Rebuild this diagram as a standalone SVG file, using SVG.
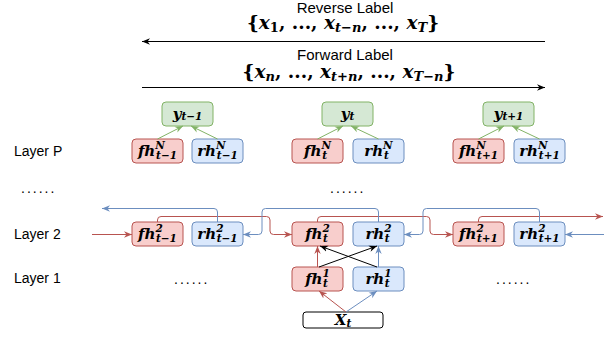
<svg xmlns="http://www.w3.org/2000/svg" width="615" height="339" viewBox="0 0 615 339">
  <style>
    .lbl { font-family: "Liberation Sans", Arial, sans-serif; font-size: 14px; fill: #000; }
    .ttl { font-family: "Liberation Sans", Arial, sans-serif; font-size: 15px; fill: #000; }
    .m { font-family: "DejaVu Serif", serif; font-weight: bold; font-style: italic; font-size: 15px; fill: #000; }
    .s { font-size: 10.5px; }
    .mb { font-family: "DejaVu Serif", serif; font-weight: bold; font-size: 18.5px; fill: #000; }
    .mi { font-style: italic; }
    .ms { font-size: 13px; }
    .f { fill: #f8cecc; stroke: #b85450; stroke-width: 1; }
    .r { fill: #dae8fc; stroke: #6c8ebf; stroke-width: 1; }
    .g { fill: #d5e8d4; stroke: #82b366; stroke-width: 1; }
    .x { fill: #ffffff; stroke: #000000; stroke-width: 1; }
    .cr { fill: none; stroke: #b85450; stroke-width: 1; marker-end: url(#aR); }
    .cb { fill: none; stroke: #6c8ebf; stroke-width: 1; marker-end: url(#aB); }
    .cg { fill: none; stroke: #82b366; stroke-width: 1; marker-end: url(#aG); }
    .ck { fill: none; stroke: #000000; stroke-width: 1; marker-end: url(#aK); }
  </style>
  <defs>
    <marker id="aR" viewBox="0 0 10 10" refX="10" refY="5" markerWidth="8" markerHeight="8" orient="auto" markerUnits="userSpaceOnUse"><path d="M0,1 L10,5 L0,9 L3,5 z" fill="#b85450"/></marker>
    <marker id="aB" viewBox="0 0 10 10" refX="10" refY="5" markerWidth="8" markerHeight="8" orient="auto" markerUnits="userSpaceOnUse"><path d="M0,1 L10,5 L0,9 L3,5 z" fill="#6c8ebf"/></marker>
    <marker id="aG" viewBox="0 0 10 10" refX="10" refY="5" markerWidth="8" markerHeight="8" orient="auto" markerUnits="userSpaceOnUse"><path d="M0,1 L10,5 L0,9 L3,5 z" fill="#82b366"/></marker>
    <marker id="aK" viewBox="0 0 10 10" refX="10" refY="5" markerWidth="8" markerHeight="8" orient="auto" markerUnits="userSpaceOnUse"><path d="M0,1 L10,5 L0,9 L3,5 z" fill="#000000"/></marker>
  </defs>

  <!-- label sequences -->
  <g id="reverse-label">
    <text class="ttl" x="345" y="13" text-anchor="middle">Reverse Label</text>
    <text class="mb" x="343" y="28.5" text-anchor="middle">{<tspan class="mi">x</tspan><tspan class="ms" dy="3">1</tspan><tspan dy="-3">, ..., </tspan><tspan class="mi">x</tspan><tspan class="ms mi" dy="3">t−n</tspan><tspan dy="-3">, ..., </tspan><tspan class="mi">x</tspan><tspan class="ms mi" dy="3">T</tspan><tspan dy="-3">}</tspan></text>
  </g>
  <g id="forward-label">
    <text class="ttl" x="345" y="60" text-anchor="middle">Forward Label</text>
    <text class="mb" x="349" y="78" text-anchor="middle">{<tspan class="mi">x</tspan><tspan class="ms mi" dy="3">n</tspan><tspan dy="-3">, ..., </tspan><tspan class="mi">x</tspan><tspan class="ms mi" dy="3">t+n</tspan><tspan dy="-3">, ..., </tspan><tspan class="mi">x</tspan><tspan class="ms mi" dy="3">T−n</tspan><tspan dy="-3">}</tspan></text>
  </g>

  <!-- row captions -->
  <g id="row-labels">
    <text class="lbl" x="14" y="156">Layer P</text>
    <text class="lbl" x="14" y="239">Layer 2</text>
    <text class="lbl" x="14" y="283">Layer 1</text>
    <text class="lbl" x="21" y="193" letter-spacing="2">......</text>
    <text class="lbl" x="330" y="193" letter-spacing="2">......</text>
    <text class="lbl" x="174" y="284" letter-spacing="2">......</text>
    <text class="lbl" x="496" y="284" letter-spacing="2">......</text>
  </g>

  <!-- outputs -->
  <g id="y-t-1"><rect class="g" x="162" y="102" width="51" height="24" rx="4"/><text class="m" x="187.5" y="119" text-anchor="middle">y<tspan class="s" dy="1">t−1</tspan></text></g>
  <g id="y-t"><rect class="g" x="322" y="102" width="51" height="24" rx="4"/><text class="m" x="347.5" y="119" text-anchor="middle">y<tspan class="s" dy="1">t</tspan></text></g>
  <g id="y-t+1"><rect class="g" x="483" y="102" width="51" height="24" rx="4"/><text class="m" x="508.5" y="119" text-anchor="middle">y<tspan class="s" dy="1">t+1</tspan></text></g>

  <!-- layer P -->
  <g id="fhN-t-1"><rect class="f" x="132" y="139" width="51" height="24" rx="4"/><text class="m" x="157.5" y="156" text-anchor="middle">fh<tspan class="s" dy="-7">N</tspan><tspan class="s" dx="-8.8" dy="10">t−1</tspan></text></g>
  <g id="rhN-t-1"><rect class="r" x="192" y="139" width="51" height="24" rx="4"/><text class="m" x="217.5" y="156" text-anchor="middle">rh<tspan class="s" dy="-7">N</tspan><tspan class="s" dx="-8.8" dy="10">t−1</tspan></text></g>
  <g id="fhN-t"><rect class="f" x="292" y="139" width="51" height="24" rx="4"/><text class="m" x="317.5" y="156" text-anchor="middle">fh<tspan class="s" dy="-7">N</tspan><tspan class="s" dx="-8.8" dy="10">t</tspan></text></g>
  <g id="rhN-t"><rect class="r" x="353" y="139" width="51" height="24" rx="4"/><text class="m" x="378.5" y="156" text-anchor="middle">rh<tspan class="s" dy="-7">N</tspan><tspan class="s" dx="-8.8" dy="10">t</tspan></text></g>
  <g id="fhN-t+1"><rect class="f" x="453" y="139" width="51" height="24" rx="4"/><text class="m" x="478.5" y="156" text-anchor="middle">fh<tspan class="s" dy="-7">N</tspan><tspan class="s" dx="-8.8" dy="10">t+1</tspan></text></g>
  <g id="rhN-t+1"><rect class="r" x="514" y="139" width="51" height="24" rx="4"/><text class="m" x="539.5" y="156" text-anchor="middle">rh<tspan class="s" dy="-7">N</tspan><tspan class="s" dx="-8.8" dy="10">t+1</tspan></text></g>

  <!-- layer 2 -->
  <g id="fh2-t-1"><rect class="f" x="132" y="222" width="51" height="24" rx="4"/><text class="m" x="157.5" y="239" text-anchor="middle">fh<tspan class="s" dy="-7">2</tspan><tspan class="s" dx="-6.8" dy="10">t−1</tspan></text></g>
  <g id="rh2-t-1"><rect class="r" x="192" y="222" width="51" height="24" rx="4"/><text class="m" x="217.5" y="239" text-anchor="middle">rh<tspan class="s" dy="-7">2</tspan><tspan class="s" dx="-6.8" dy="10">t−1</tspan></text></g>
  <g id="fh2-t"><rect class="f" x="292" y="222" width="51" height="24" rx="4"/><text class="m" x="317.5" y="239" text-anchor="middle">fh<tspan class="s" dy="-7">2</tspan><tspan class="s" dx="-6.8" dy="10">t</tspan></text></g>
  <g id="rh2-t"><rect class="r" x="353" y="222" width="51" height="24" rx="4"/><text class="m" x="378.5" y="239" text-anchor="middle">rh<tspan class="s" dy="-7">2</tspan><tspan class="s" dx="-6.8" dy="10">t</tspan></text></g>
  <g id="fh2-t+1"><rect class="f" x="453" y="222" width="51" height="24" rx="4"/><text class="m" x="478.5" y="239" text-anchor="middle">fh<tspan class="s" dy="-7">2</tspan><tspan class="s" dx="-6.8" dy="10">t+1</tspan></text></g>
  <g id="rh2-t+1"><rect class="r" x="514" y="222" width="51" height="24" rx="4"/><text class="m" x="539.5" y="239" text-anchor="middle">rh<tspan class="s" dy="-7">2</tspan><tspan class="s" dx="-6.8" dy="10">t+1</tspan></text></g>

  <!-- layer 1 -->
  <g id="fh1-t"><rect class="f" x="292" y="267" width="51" height="24" rx="4"/><text class="m" x="317.5" y="284" text-anchor="middle">fh<tspan class="s" dy="-7">1</tspan><tspan class="s" dx="-6.8" dy="10">t</tspan></text></g>
  <g id="rh1-t"><rect class="r" x="353" y="267" width="51" height="24" rx="4"/><text class="m" x="378.5" y="284" text-anchor="middle">rh<tspan class="s" dy="-7">1</tspan><tspan class="s" dx="-6.8" dy="10">t</tspan></text></g>

  <!-- input -->
  <g id="x-t"><rect class="x" x="303" y="312" width="80" height="16" rx="3"/><text class="m" x="343" y="325" text-anchor="middle">X<tspan class="s" dy="2">t</tspan></text></g>

  <g id="connectors">
    <!-- label directions -->
    <path class="ck" d="M545,41.5 H142"/>
    <path class="ck" d="M142,87.5 H545"/>

    <!-- layer P to outputs -->
    <path class="cg" d="M157.5,139 L183,126"/>
    <path class="cg" d="M217.5,139 L191,126"/>
    <path class="cg" d="M317.5,139 L343,126"/>
    <path class="cg" d="M378.5,139 L351,126"/>
    <path class="cg" d="M478.5,139 L504,126"/>
    <path class="cg" d="M539.5,139 L512,126"/>

    <!-- forward recurrence in layer 2 -->
    <path class="cr" d="M92,234.5 H132"/>
    <path class="cr" d="M157.5,222 V220 Q157.5,216.5 161,216.5 H266.5 Q270,216.5 270,220 V231 Q270,234.5 273.5,234.5 H292"/>
    <path class="cr" d="M317.5,222 V220 Q317.5,216.5 321,216.5 H426.5 Q430,216.5 430,220 V231 Q430,234.5 433.5,234.5 H453"/>
    <path class="cr" d="M478.5,222 V220 Q478.5,216.5 482,216.5 H603"/>

    <!-- reverse recurrence in layer 2 -->
    <path class="cb" d="M604,234.5 H565"/>
    <path class="cb" d="M539.5,222 V212 Q539.5,208.5 536,208.5 H426.5 Q423,208.5 423,212 V231 Q423,234.5 419.5,234.5 H404"/>
    <path class="cb" d="M378.5,222 V212 Q378.5,208.5 375,208.5 H265.5 Q262,208.5 262,212 V231 Q262,234.5 258.5,234.5 H243"/>
    <path class="cb" d="M217.5,222 V212 Q217.5,208.5 214,208.5 H102"/>

    <!-- layer 1 to layer 2 -->
    <path class="cr" d="M317.5,267 V246"/>
    <path class="cb" d="M378.5,267 V246"/>
    <path class="ck" d="M319,267 L377,246"/>
    <path class="ck" d="M377,267 L320,246"/>

    <!-- input to layer 1 -->
    <path class="cr" d="M346,312 L319,291"/>
    <path class="cb" d="M346,312 L377,291"/>
  </g>
</svg>
